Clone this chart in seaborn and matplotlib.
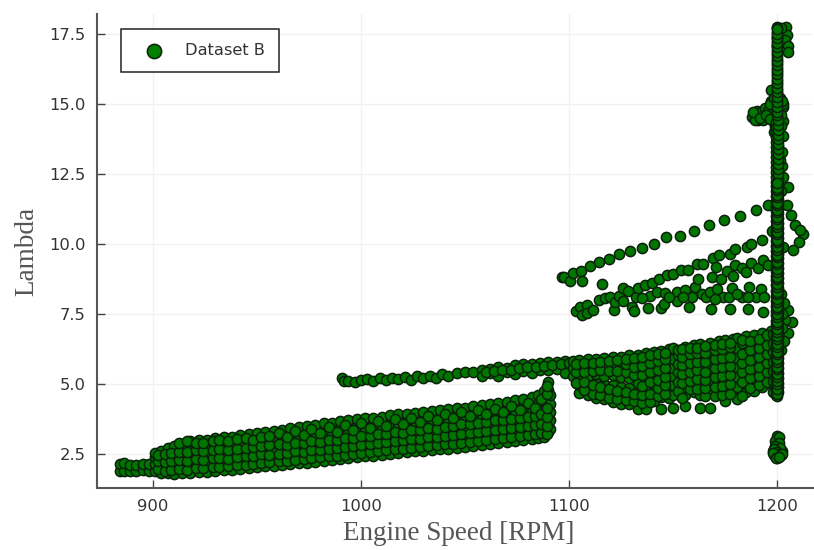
# coding: utf-8

import matplotlib
matplotlib.use('Agg')
import matplotlib.pyplot as plt
import pandas as pd
import seaborn as sns

# Data: (engine speed, [lambda, ...])

idle_cols = [
    (884, [1.9, 2.15]), (886, [1.88, 2.17]), (889, [1.9, 2.12]), (892, [1.9, 2.1]),
    (895, [1.92, 2.14]), (898, [1.9, 2.13]),
]

band_cols = [
    (901, [1.88, 2.14, 2.38, 2.55]), (904, [1.84, 2.08, 2.33, 2.62]),
    (907, [1.82, 2.1, 2.4, 2.72]), (910, [1.8, 2.06, 2.36, 2.6, 2.8]),
    (914, [1.83, 2.12, 2.44, 2.72, 2.86]), (918, [1.82, 2.1, 2.36, 2.66, 2.95]),
    (922, [1.86, 2.16, 2.47, 2.8, 3.0]), (926, [1.85, 2.12, 2.42, 2.74, 3.02]),
    (930, [1.9, 2.2, 2.52, 2.84, 3.06]), (934, [1.92, 2.18, 2.46, 2.78, 3.1]),
    (938, [1.95, 2.24, 2.55, 2.86, 3.12]), (942, [1.97, 2.22, 2.5, 2.8, 3.17]),
    (946, [2.0, 2.3, 2.6, 2.9, 3.2]), (950, [2.03, 2.3, 2.56, 2.86, 3.12, 3.25]),
    (954, [2.06, 2.36, 2.64, 2.94, 3.28]), (958, [2.08, 2.34, 2.6, 2.9, 3.15, 3.33]),
    (962, [2.1, 2.4, 2.7, 3.0, 3.37]), (966, [2.14, 2.38, 2.66, 2.96, 3.2, 3.42]),
    (970, [2.17, 2.44, 2.76, 3.06, 3.46]), (974, [2.2, 2.46, 2.72, 3.02, 3.28, 3.5]),
    (978, [2.22, 2.5, 2.8, 3.12, 3.54]), (982, [2.26, 2.52, 2.78, 3.08, 3.36, 3.6]),
    (986, [2.3, 2.56, 2.86, 3.18, 3.62]), (990, [2.32, 2.58, 2.84, 3.14, 3.42, 3.68]),
    (994, [2.36, 2.62, 2.92, 3.24, 3.7]), (998, [2.4, 2.66, 2.92, 3.2, 3.5, 3.75]),
    (1002, [2.42, 2.7, 3.0, 3.32, 3.78]), (1006, [2.45, 2.72, 3.0, 3.28, 3.56, 3.8]),
    (1010, [2.48, 2.76, 3.06, 3.38, 3.84]), (1014, [2.5, 2.78, 3.06, 3.34, 3.62, 3.88]),
    (1018, [2.54, 2.82, 3.12, 3.46, 3.92]), (1022, [2.56, 2.84, 3.14, 3.42, 3.7, 3.94]),
    (1026, [2.6, 2.88, 3.2, 3.52, 3.98]), (1030, [2.62, 2.9, 3.2, 3.5, 3.78, 4.0]),
    (1034, [2.64, 2.94, 3.26, 3.6, 4.04]), (1038, [2.68, 2.96, 3.26, 3.56, 3.84, 4.08]),
    (1042, [2.7, 3.0, 3.32, 3.66, 4.1]), (1046, [2.72, 3.02, 3.34, 3.64, 3.92, 4.14]),
    (1050, [2.76, 3.06, 3.4, 3.74, 4.16]), (1054, [2.8, 3.08, 3.4, 3.72, 4.0, 4.22]),
    (1058, [2.82, 3.12, 3.46, 3.8, 4.25]), (1062, [2.85, 3.14, 3.48, 3.78, 4.06, 4.28]),
    (1066, [2.9, 3.2, 3.54, 3.88, 4.32]), (1070, [2.92, 3.22, 3.54, 3.86, 4.14, 4.36]),
    (1074, [2.96, 3.26, 3.6, 3.94, 4.42]), (1078, [3.0, 3.3, 3.62, 3.92, 4.2, 4.46]),
    (1082, [3.04, 3.34, 3.68, 4.02, 4.54]), (1085, [3.08, 3.36, 3.7, 4.0, 4.3, 4.62]),
    (1088, [3.12, 3.42, 3.76, 4.08, 4.4, 4.75]), (1090, [3.3, 3.6, 3.9, 4.2, 4.5, 4.8, 5.08]),
    (1091, [3.4, 3.7, 4.0, 4.3, 4.6]),
]

band_extra_cols = [
    (902.5, [1.97, 2.26, 2.47]), (905.7, [1.9, 2.21, 2.52]), (908.6, [1.93, 2.27, 2.55]),
    (912.3, [1.96, 2.29, 2.57, 2.9]), (916.4, [1.93, 2.24, 2.58, 2.98]), (920.7, [2.0, 2.31, 2.63, 2.88]),
    (924.1, [1.99, 2.29, 2.6, 2.91]), (928.8, [2.03, 2.35, 2.66, 2.96]), (931.6, [2.05, 2.37, 2.69, 3.0]),
    (936.2, [2.06, 2.32, 2.63, 2.97]), (940.3, [2.1, 2.38, 2.69, 3.03]), (944.5, [2.12, 2.42, 2.72, 3.07]),
    (948.2, [2.16, 2.44, 2.74, 3.02]), (952.1, [2.19, 2.49, 2.78, 3.1]), (955.9, [2.21, 2.47, 2.82, 3.16]),
    (960.4, [2.24, 2.52, 2.85, 3.24]), (964.2, [2.27, 2.55, 2.83, 3.12]), (968.3, [2.29, 2.6, 2.9, 3.31]),
    (972.6, [2.33, 2.58, 2.88, 3.19]), (976.1, [2.36, 2.66, 2.96, 3.38]), (980.2, [2.39, 2.65, 2.94, 3.25]),
    (984.4, [2.43, 2.7, 3.0, 3.47]), (988.3, [2.45, 2.73, 3.02, 3.3]), (992.2, [2.48, 2.77, 3.08, 3.55]),
    (996.1, [2.52, 2.79, 3.06, 3.36]), (1000.2, [2.55, 2.84, 3.16, 3.62]), (1004.3, [2.58, 2.86, 3.14, 3.44]),
    (1008.1, [2.62, 2.91, 3.22, 3.68]), (1012.2, [2.64, 2.92, 3.2, 3.5]), (1016.4, [2.67, 2.97, 3.28, 3.74]),
    (1020.3, [2.7, 2.99, 3.27, 3.56]), (1024.1, [2.73, 3.04, 3.36, 3.8]), (1028.2, [2.76, 3.05, 3.35, 3.65]),
    (1032.3, [2.79, 3.1, 3.42, 3.86]), (1036.4, [2.82, 3.11, 3.41, 3.71]), (1040.2, [2.85, 3.16, 3.48, 3.92]),
    (1044.1, [2.87, 3.18, 3.5, 3.78]), (1048.3, [2.91, 3.23, 3.56, 4.0]), (1052.2, [2.94, 3.24, 3.56, 3.86]),
    (1056.4, [2.97, 3.29, 3.62, 4.06]), (1060.1, [3.0, 3.31, 3.63, 3.92]), (1064.3, [3.04, 3.37, 3.7, 4.12]),
    (1068.2, [3.07, 3.38, 3.7, 4.0]), (1072.1, [3.11, 3.43, 3.76, 4.22]), (1076.3, [3.15, 3.46, 3.78, 4.06]),
    (1080.2, [3.19, 3.5, 3.84, 4.34]), (1083.7, [3.22, 3.53, 3.85, 4.16]), (1086.6, [3.26, 3.58, 3.92, 4.46]),
    (1089.2, [3.2, 3.5, 3.82, 4.14, 4.64, 4.94]),
]

upper_line_pts = [
    (991, 5.2), (992, 5.1), (994, 5.12), (997, 5.08), (1000, 5.15), (1003, 5.18), (1006, 5.1),
    (1009, 5.2), (1012, 5.14), (1015, 5.22), (1018, 5.17), (1021, 5.25), (1024, 5.14),
    (1027, 5.3), (1030, 5.2), (1033, 5.3), (1036, 5.22), (1039, 5.35), (1042, 5.28),
    (1046, 5.38), (1050, 5.42), (1054, 5.44), (1058, 5.5), (1058, 5.3), (1062, 5.55),
    (1062, 5.38), (1066, 5.6), (1066, 5.3), (1070, 5.58), (1070, 5.42), (1074, 5.68),
    (1074, 5.35), (1078, 5.7), (1078, 5.45), (1082, 5.72), (1082, 5.4), (1086, 5.76),
    (1086, 5.5), (1090, 5.78), (1090, 5.5), (1094, 5.8), (1094, 5.55), (1098, 5.82), (1098, 5.4),
    (1060, 5.44), (1064, 5.48), (1068, 5.5), (1072, 5.52), (1076, 5.58), (1080, 5.6), (1084, 5.62),
    (1088, 5.64), (1092, 5.68), (1096, 5.7), (1100, 5.74),
]

right_cols = [
    (1102, [5.3, 5.58, 5.84]), (1105, [4.68, 4.95, 5.2, 5.5, 5.86]),
    (1109, [4.6, 4.9, 5.3, 5.6, 5.9]), (1113, [4.5, 4.78, 5.05, 5.36, 5.66, 5.88]),
    (1117, [4.45, 4.72, 5.0, 5.3, 5.6, 5.92]), (1121, [4.36, 4.66, 4.98, 5.34, 5.66, 5.95]),
    (1125, [4.3, 4.6, 4.9, 5.26, 5.6, 5.98]), (1129, [4.3, 4.56, 4.85, 5.2, 5.56, 5.8, 6.02]),
    (1133, [4.12, 4.45, 4.75, 5.05, 5.4, 5.72, 6.05]), (1137, [4.12, 4.5, 4.8, 5.2, 5.5, 5.82, 6.1]),
    (1141, [4.4, 4.7, 5.0, 5.3, 5.64, 5.92, 6.16]), (1144, [4.1, 4.55, 4.85, 5.15, 5.46, 5.78, 6.18]),
    (1148, [4.5, 4.8, 5.1, 5.4, 5.7, 6.0, 6.24]), (1150, [4.13, 4.62, 4.95, 5.28, 5.58, 5.9, 6.28]),
    (1156, [4.2, 4.6, 4.9, 5.2, 5.5, 5.82, 6.12, 6.34]), (1160, [4.7, 5.0, 5.34, 5.66, 5.98, 6.38]),
    (1163, [4.13, 4.62, 4.92, 5.2, 5.5, 5.84, 6.16, 6.42]), (1168, [4.13, 4.7, 5.02, 5.34, 5.68, 6.02, 6.46]),
    (1172, [4.76, 5.08, 5.4, 5.72, 6.08, 6.3, 6.52]), (1175, [4.4, 4.8, 5.14, 5.46, 5.8, 6.14, 6.56]),
    (1179, [4.82, 5.2, 5.5, 5.84, 6.2, 6.6]), (1181, [4.48, 4.9, 5.26, 5.6, 5.92, 6.3, 6.66]),
    (1185, [4.7, 5.0, 5.34, 5.66, 6.0, 6.36, 6.7]), (1189, [4.75, 5.1, 5.42, 5.74, 6.06, 6.42, 6.76]),
    (1193, [4.9, 5.2, 5.5, 5.84, 6.16, 6.5, 6.82]), (1197, [5.0, 5.3, 5.6, 5.94, 6.26, 6.6, 6.88]),
]

right_extra_cols = [
    (1103.4, [5.04, 5.42, 5.72]), (1107.2, [4.8, 5.08, 5.44, 5.76]), (1111.3, [4.66, 4.96, 5.48, 5.76]),
    (1115.1, [4.6, 4.88, 5.5, 5.8]), (1119.2, [4.52, 4.84, 5.46, 5.82]), (1123.1, [4.46, 4.76, 5.48, 5.86]),
    (1127.3, [4.44, 4.72, 5.42, 5.72, 5.9]), (1131.2, [4.4, 4.66, 5.34, 5.62, 5.92]),
    (1135.3, [4.32, 4.62, 4.92, 5.34, 5.66, 5.96]), (1139.1, [4.36, 4.64, 5.06, 5.42, 5.74, 6.04]),
    (1142.6, [4.56, 4.86, 5.16, 5.5, 5.82, 6.08]), (1146.2, [4.66, 4.98, 5.26, 5.58, 5.88, 6.12]),
    (1152.3, [4.76, 5.08, 5.42, 5.72, 6.02, 6.22]), (1154.2, [4.5, 5.04, 5.36, 5.68, 5.98, 6.26]),
    (1158.1, [4.82, 5.12, 5.44, 5.76, 6.06, 6.28]), (1161.6, [4.84, 5.18, 5.52, 5.78, 6.1, 6.3]),
    (1165.4, [4.56, 4.86, 5.14, 5.44, 5.78, 6.12, 6.36]), (1170.1, [4.56, 4.9, 5.24, 5.56, 5.9, 6.2, 6.38]),
    (1173.7, [4.62, 4.94, 5.28, 5.6, 5.94, 6.24, 6.42]), (1177.2, [4.66, 5.0, 5.34, 5.66, 5.98, 6.32, 6.48]),
    (1183.2, [4.58, 5.08, 5.42, 5.76, 6.08, 6.46, 6.58]), (1187.1, [4.86, 5.2, 5.54, 5.86, 6.2, 6.52]),
    (1191.2, [4.96, 5.28, 5.62, 5.96, 6.3, 6.62]), (1195.1, [5.08, 5.42, 5.76, 6.08, 6.4, 6.74]),
    (1198.1, [4.72, 5.12, 5.46, 5.8, 6.14, 6.46, 6.78]),
]

top_line_pts = [
    (1096.5, 8.81), (1097.6, 8.81), (1100.5, 8.69), (1102.1, 8.95), (1105.8, 9.04), (1106.1, 8.68),
    (1110, 9.2), (1114.3, 9.36), (1119.1, 9.47), (1123.9, 9.66), (1129.2, 9.75), (1135, 9.86),
    (1140.7, 10.01), (1146.8, 10.24), (1153.5, 10.3), (1160.3, 10.48), (1167.5, 10.67),
    (1174.7, 10.86), (1182.1, 11.01), (1189.7, 11.2), (1195.8, 11.38),
]

middle_pts = [
    (1115.7, 8.56), (1103.4, 7.62), (1105.3, 7.74), (1106.1, 7.47), (1108.5, 7.82), (1108.5, 7.53),
    (1111.7, 7.65), (1114.6, 8.0), (1117.3, 8.06), (1119.7, 8.1), (1121.6, 7.65), (1122.1, 7.94),
    (1124, 8.15), (1126.1, 8.44), (1128.5, 8.34), (1130.1, 7.74), (1131.4, 7.62), (1132.2, 8.1),
    (1133.3, 8.42), (1136.5, 8.54), (1138.1, 7.71), (1139, 8.15), (1139.7, 8.62), (1143.5, 8.74),
    (1142.5, 8.3), (1144.2, 7.73), (1145.7, 7.86), (1146.2, 8.24), (1147, 8.9), (1150.2, 8.93),
    (1151.8, 8.3), (1152.1, 7.98), (1153.9, 9.07), (1155.8, 8.36), (1157.4, 9.07), (1157.5, 7.74),
    (1159, 8.12), (1160.6, 8.48), (1162.2, 8.74), (1161.7, 9.28), (1164.6, 9.28), (1163.8, 8.22),
    (1165.9, 8.1), (1168.1, 7.68), (1168.6, 8.81), (1169.1, 9.49), (1170.7, 9.17), (1172.1, 9.61),
    (1172.9, 8.74), (1174.2, 8.12), (1175.8, 9.02), (1177.1, 8.12), (1177.4, 7.68), (1177.4, 9.65),
    (1178.5, 8.42), (1179, 8.87), (1179.8, 9.81), (1179.8, 9.25), (1183, 8.1), (1183, 9.13),
    (1185.1, 9.01), (1185.4, 9.91), (1186.2, 7.67), (1186.7, 8.46), (1187.3, 9.99), (1187.3, 9.31),
    (1189.9, 8.1), (1191, 9.13), (1192.2, 8.38), (1192.6, 10.15), (1193.4, 7.59), (1193.8, 8.1),
    (1193.4, 9.43), (1195.8, 9.25), (1197.4, 10.48), (1168, 8.3), (1171, 8.38), (1181, 8.2),
    (1126, 7.98), (1135, 8.08), (1148, 8.12), (1155, 8.1), (1170, 8.05), (1186, 8.12),
]

spine_left = [
    4.6, 4.78, 4.95, 5.14, 5.3, 5.5, 5.66, 5.85, 6.02, 6.2, 6.38, 6.55, 6.74, 6.9, 7.1, 7.26, 7.45,
    7.62, 7.8, 7.98, 8.16, 8.33, 8.52, 8.7, 8.86, 9.05, 9.22, 9.4, 9.58, 9.76, 9.93, 10.12, 10.3,
    10.46, 10.65, 10.82, 11.0, 11.18, 11.35, 11.52, 11.7, 11.88, 12.06, 12.22, 12.4, 12.58, 12.76,
    12.94, 13.12, 13.3, 13.46, 13.65, 13.82, 14.0, 14.18, 14.35,
]
spine_right = [
    4.7, 4.88, 5.05, 5.22, 5.4, 5.58, 5.76, 5.94, 6.12, 6.3, 6.46, 6.65, 6.82, 7.0, 7.18, 7.36, 7.54,
    7.72, 7.9, 8.08, 8.25, 8.42, 8.6, 8.78, 8.96, 9.14, 9.32, 9.5, 9.66, 9.85, 10.02, 10.2, 10.38,
    10.56, 10.74, 10.92, 11.1, 11.26, 11.44, 11.62, 11.8, 11.96, 12.14, 12.32, 12.5, 12.68, 12.85,
    13.02, 13.2, 13.38, 13.56, 13.74, 13.9, 14.08, 14.26, 14.44,
]
spine_mid = [
    4.56, 4.66, 4.84, 5.0, 5.1, 5.26, 5.36, 5.54, 5.62, 5.8, 5.9, 6.08, 6.16, 6.34, 6.42, 6.6, 6.7,
    6.86, 6.96, 7.14, 7.22, 7.4, 7.5, 7.68, 7.76, 7.94, 8.04, 8.2, 8.3, 8.46, 8.56, 8.74, 8.82, 9.0,
    9.1, 9.28, 9.36, 9.54, 9.62, 9.8, 9.9, 10.06, 10.16, 10.34, 10.42, 10.6, 10.7, 10.88, 10.96,
    11.14, 11.22, 11.4, 11.48, 11.66, 11.74, 11.92, 12.0, 12.18,
]
spine_top = [
    14.6, 14.8, 15.0, 15.16, 15.34, 15.5, 15.66, 15.82, 15.98, 16.14, 16.3, 16.46, 16.62, 16.78,
    16.94, 17.1, 17.26, 17.42, 17.58, 17.72, 14.7, 14.9, 15.08, 15.26, 15.42, 15.58, 15.74, 15.9,
    16.06, 16.22, 16.38, 16.54, 16.7, 16.86, 17.02, 17.18, 17.34, 17.5, 17.66,
]

loop_pts = [
    (1212.7, 10.35), (1210.7, 10.06), (1207.5, 9.79), (1208.7, 10.68), (1206.6, 11.04), (1204.7, 11.39),
    (1203, 9.9), (1207.4, 7.23), (1205.5, 7.65), (1205.5, 6.81), (1203.5, 7.9), (1203.5, 6.55),
    (1204, 7.3), (1202.5, 7.0), (1202.5, 7.5), (1211, 10.5), (1202, 6.2), (1202, 8.2),
]

peak_pts = [
    (1199.9, 17.76), (1204.2, 17.74), (1205, 17.46), (1203.9, 17.29), (1205.5, 17.05), (1205.5, 16.87),
    (1202, 17.7), (1200.2, 17.35), (1200.2, 17.07), (1197.1, 15.48), (1189, 14.57), (1187.8, 14.55),
    (1191, 14.43), (1190.5, 14.75), (1192.5, 14.7), (1194.3, 14.85), (1197.5, 14.96), (1195.9, 14.73),
    (1193.5, 14.43), (1199.9, 14.8), (1199.5, 14.55), (1201.5, 15.2), (1202.7, 14.9), (1199, 14.17),
    (1203, 13.86), (1200.7, 13.5), (1202.6, 12.8), (1201.5, 12.99), (1205.1, 12.05), (1202, 11.9),
    (1203, 14.4), (1203, 15.0), (1197, 15.1), (1198, 14.4), (1202.5, 13.3), (1203, 12.4),
    (1189.5, 14.42), (1188.6, 14.7), (1192, 14.5), (1194.5, 14.6), (1196.5, 14.45), (1196.6, 14.98),
    (1198.4, 15.2), (1202, 14.6), (1202.5, 15.1), (1198.5, 14.0), (1202, 14.2),
]

low_pts = [
    (1199.8, 3.16), (1200.4, 3.04), (1199.6, 2.92), (1200.6, 2.8), (1199.4, 2.7), (1200.5, 2.64),
    (1198.2, 2.6), (1202.2, 2.6), (1199, 2.5), (1201.2, 2.5), (1200, 2.42), (1198.6, 2.48),
    (1201.8, 2.46), (1200.2, 2.36), (1199.1, 2.98), (1200.9, 3.1), (1201, 2.9), (1199, 2.8),
    (1201.4, 2.72), (1198.7, 2.68), (1199.8, 2.56), (1200.4, 2.5), (1197.9, 2.54), (1202.5, 2.52),
    (1199.4, 2.36), (1200.8, 2.4),
]

tick_x = [900, 1000, 1100, 1200]
tick_y = [2.5, 5.0, 7.5, 10.0, 12.5, 15.0, 17.5]

# Setup

sns.set_theme(style='white')
plt.rcParams['font.family'] = ['DejaVu Sans']


def flatten(cols):
    return [(x, y) for x, ys in cols for y in ys]


pts = flatten(idle_cols) + flatten(band_cols) + flatten(band_extra_cols) + upper_line_pts
pts += flatten(right_cols) + flatten(right_extra_cols)
pts += top_line_pts + middle_pts + loop_pts + peak_pts + low_pts
pts += flatten([(1199.4, spine_left), (1200.6, spine_right), (1200, spine_mid), (1200, spine_top)])
df = pd.DataFrame(pts, columns=['speed', 'lambda'])

fig = plt.figure(figsize=(8.14, 5.5), dpi=100)
ax = fig.add_axes([97 / 814, 1 - 488 / 550, 716 / 814, 474 / 550])

sns.scatterplot(data=df, x='speed', y='lambda', ax=ax, s=54, color='#007500',
                edgecolor='#0a200a', linewidth=1.1, label='Dataset B', clip_on=False)

ax.set_xlim(873.1, 1217.3)
ax.set_ylim(1.29, 18.21)
ax.set_xticks(tick_x)
ax.set_yticks(tick_y)
ax.set_yticklabels([f'{v:.1f}' for v in tick_y])
ax.grid(True, color='#f1f1f1', linewidth=1)
ax.set_axisbelow(True)
ax.tick_params(axis='both', direction='in', length=6, width=1, color='#444444',
               labelsize=11.8, labelcolor='#333333', pad=8, left=True, bottom=True)
ax.spines['top'].set_visible(False)
ax.spines['right'].set_visible(False)
for side in ['left', 'bottom']:
    ax.spines[side].set_color('#555555')
    ax.spines[side].set_linewidth(1.5)

ax.set_xlabel('Engine Speed [RPM]', family='Liberation Serif', fontsize=19.5, color='#555555',
              labelpad=5, x=0.505)
ax.set_ylabel('Lambda', family='Liberation Serif', fontsize=19.5, color='#555555', labelpad=7)

leg = ax.legend(loc='upper left', bbox_to_anchor=(24 / 716, 459 / 474), borderaxespad=0, fancybox=False,
                framealpha=1, edgecolor='#222222', fontsize=11.7, labelcolor='#333333',
                markerscale=1.4, borderpad=0.85, handletextpad=0.8, handlelength=2.3)
leg.get_frame().set_linewidth(1.1)
leg.legend_handles[0].set_facecolor('#008000')

fig.savefig('out.png', dpi=100)
